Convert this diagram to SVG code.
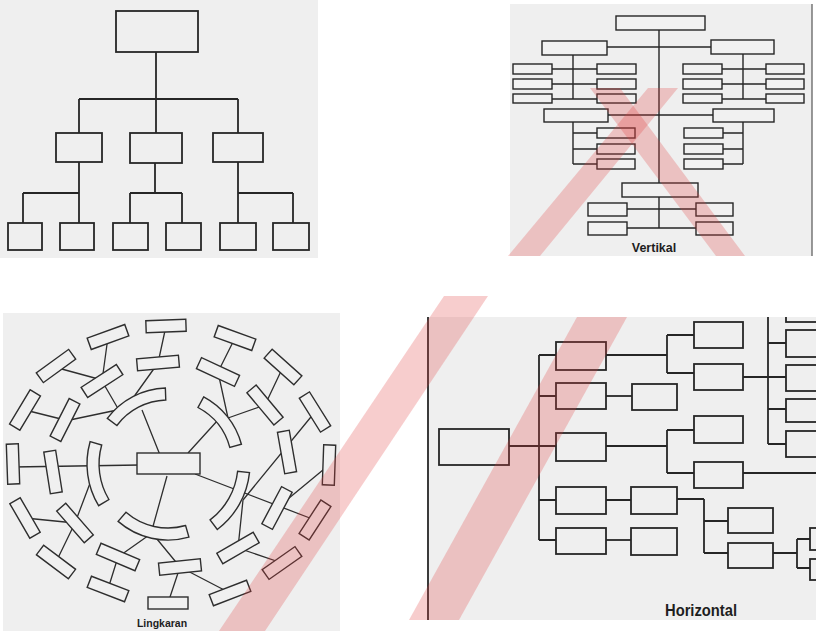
<svg xmlns="http://www.w3.org/2000/svg" width="816" height="631" viewBox="0 0 816 631">
<style>
.pbg{fill:#efefef}
.bx{fill:#efefef;stroke:#262626;stroke-width:1.8}
.bxt{fill:#f1f1f1;stroke:#262626;stroke-width:1.4}
.cb{fill:#f0f0f0;stroke:#2e2e2e;stroke-width:1.4}
.ln{fill:none;stroke:#262626;stroke-width:1.8}
.lnt{fill:none;stroke:#262626;stroke-width:1.4}
.lnc{fill:none;stroke:#2e2e2e;stroke-width:1.3}
.lbl{font-family:"Liberation Sans",Arial,sans-serif;font-weight:bold;fill:#1e1e1e;text-anchor:middle}
.wm{fill:#e03c3c;opacity:0.26}
</style>
<defs>
<clipPath id="hclip"><rect x="428" y="317" width="388" height="303"/></clipPath>
</defs>
<rect width="816" height="631" fill="#ffffff"/>
<!-- panel backgrounds -->
<rect class="pbg" x="0" y="0" width="318" height="258"/>
<rect class="pbg" x="510" y="4" width="302" height="252"/>
<line x1="812" y1="4" x2="812" y2="256" stroke="#555" stroke-width="1.2"/>
<rect class="pbg" x="3" y="313" width="337" height="318"/>
<rect class="pbg" x="428" y="317" width="388" height="303"/>
<line x1="428" y1="317" x2="428" y2="620" stroke="#262626" stroke-width="1.8"/>

<!-- ============ TOP-LEFT chart ============ -->
<g id="tl-connectors" class="ln">
<path d="M156 52V99M79 99H238M79 99V133M156 99V133M238 99V133"/>
<path d="M79 162V193M23 193H79M23 193V223M79 193V223"/>
<path d="M155 163V193M130 193H182M130 193V223M182 193V223"/>
<path d="M238 162V193M238 193H293M238 193V223M293 193V223"/>
</g>
<g id="tl-root"><rect class="bx" x="116" y="11" width="82" height="41"/></g>
<g id="tl-m1"><rect class="bx" x="56" y="133" width="46" height="29"/></g>
<g id="tl-m2"><rect class="bx" x="130" y="133" width="52" height="30"/></g>
<g id="tl-m3"><rect class="bx" x="213" y="133" width="50" height="29"/></g>
<g id="tl-b1"><rect class="bx" x="8" y="223" width="34" height="27"/></g>
<g id="tl-b2"><rect class="bx" x="60" y="223" width="34" height="27"/></g>
<g id="tl-b3"><rect class="bx" x="113" y="223" width="35" height="27"/></g>
<g id="tl-b4"><rect class="bx" x="166" y="223" width="35" height="27"/></g>
<g id="tl-b5"><rect class="bx" x="220" y="223" width="36" height="27"/></g>
<g id="tl-b6"><rect class="bx" x="273" y="223" width="36" height="27"/></g>

<!-- ============ TOP-RIGHT vertical chart ============ -->
<g id="v-connectors" class="lnt">
<path d="M659 30V183M659 197V228"/>
<path d="M607 47H711"/>
<path d="M573 55V99M552 69H597M552 84H597M552 99H597"/>
<path d="M743 54V99M722 69H766M722 84H766M722 99H766"/>
<path d="M608 115H713"/>
<path d="M573 122V164M573 133H597M573 149H597M573 164H597"/>
<path d="M743 122V164M723 133H743M723 149H743M723 164H743"/>
<path d="M627 209H696M627 228H696"/>
</g>
<g id="v-top"><rect class="bxt" x="616" y="16" width="89" height="14"/></g>
<g id="v-l2a"><rect class="bxt" x="542" y="41" width="65" height="14"/></g>
<g id="v-l2b"><rect class="bxt" x="711" y="40" width="63" height="14"/></g>
<g id="v-a1"><rect class="bxt" x="513" y="64" width="39" height="10"/></g>
<g id="v-a2"><rect class="bxt" x="513" y="79" width="39" height="10"/></g>
<g id="v-a3"><rect class="bxt" x="513" y="94" width="39" height="9"/></g>
<g id="v-a4"><rect class="bxt" x="597" y="64" width="39" height="10"/></g>
<g id="v-a5"><rect class="bxt" x="597" y="79" width="39" height="10"/></g>
<g id="v-a6"><rect class="bxt" x="597" y="94" width="39" height="9"/></g>
<g id="v-b1"><rect class="bxt" x="683" y="64" width="39" height="10"/></g>
<g id="v-b2"><rect class="bxt" x="683" y="79" width="39" height="10"/></g>
<g id="v-b3"><rect class="bxt" x="683" y="94" width="39" height="9"/></g>
<g id="v-b4"><rect class="bxt" x="766" y="64" width="38" height="10"/></g>
<g id="v-b5"><rect class="bxt" x="766" y="79" width="38" height="10"/></g>
<g id="v-b6"><rect class="bxt" x="766" y="94" width="38" height="9"/></g>
<g id="v-l3a"><rect class="bxt" x="544" y="109" width="64" height="13"/></g>
<g id="v-l3b"><rect class="bxt" x="713" y="109" width="61" height="13"/></g>
<g id="v-c1"><rect class="bxt" x="597" y="128" width="38" height="10"/></g>
<g id="v-c2"><rect class="bxt" x="597" y="144" width="38" height="10"/></g>
<g id="v-c3"><rect class="bxt" x="597" y="159" width="38" height="10"/></g>
<g id="v-d1"><rect class="bxt" x="684" y="128" width="39" height="10"/></g>
<g id="v-d2"><rect class="bxt" x="684" y="144" width="39" height="10"/></g>
<g id="v-d3"><rect class="bxt" x="684" y="159" width="39" height="10"/></g>
<g id="v-bot"><rect class="bxt" x="622" y="183" width="76" height="14"/></g>
<g id="v-e1"><rect class="bxt" x="588" y="203" width="39" height="13"/></g>
<g id="v-e2"><rect class="bxt" x="588" y="222" width="39" height="13"/></g>
<g id="v-e3"><rect class="bxt" x="696" y="203" width="37" height="13"/></g>
<g id="v-e4"><rect class="bxt" x="696" y="222" width="37" height="13"/></g>
<text class="lbl" x="654" y="252" font-size="12.5">Vertikal</text>

<!-- ============ BOTTOM-LEFT circle chart ============ -->
<g id="c-connectors" class="lnc">
<path d="M160 455L142 410M128 405L158 363M158 363L166 326"/>
<path d="M102 381L120 412M108 337L102 381M58 368L102 380M65 421L122 409M25 410L65 420"/>
<path d="M188 453L218 420M218 372L228 418M235 338L218 372M228 418L265 405M265 405L283 367"/>
<path d="M315 412L243 500M243 500L238 548M238 548L282 563"/>
<path d="M195 474L315 520M329 465L277 508"/>
<path d="M13 467L140 465"/>
<path d="M75 523L25 518M75 523L92 478M75 523L56 562"/>
<path d="M167 476L152 530M152 533L118 557M118 557L108 589M152 533L180 567M180 567L230 593M180 567L168 603"/>
</g>
<g id="c-center"><rect class="cb" x="137" y="453" width="63" height="21"/></g>
<g id="c-A"><path class="cb" d="M107.3 418.3A76 76 0 0 1 165.35 388.05L165.77 400.04A64 64 0 0 0 116.9 425.5Z"/></g>
<g id="c-B"><path class="cb" d="M203.7 396.9A76 76 0 0 1 241.4 444.3L229.8 447.4A64 64 0 0 0 198 407.5Z"/></g>
<g id="c-C"><path class="cb" d="M98.6 505.7A81 81 0 0 1 90.1 441.7L101.7 445A69 69 0 0 0 108.9 499.5Z"/></g>
<g id="c-D"><path class="cb" d="M249.5 472.6A82 82 0 0 1 217.3 529.5L210.1 519.9A70 70 0 0 0 237.6 471.3Z"/></g>
<g id="c-E"><path class="cb" d="M188.9 537.1A76 76 0 0 1 118.1 521.4L126 512.3A64 64 0 0 0 185.6 525.5Z"/></g>
<!-- middle ring -->
<g id="c-a"><rect class="cb" x="-21" y="-6" width="42" height="12" transform="translate(158 363) rotate(-5)"/></g>
<g id="c-b"><rect class="cb" x="-21" y="-6" width="42" height="12" transform="translate(218 372) rotate(25)"/></g>
<g id="c-c"><rect class="cb" x="-21" y="-6" width="42" height="12" transform="translate(102 381) rotate(-33)"/></g>
<g id="c-d"><rect class="cb" x="-21" y="-6" width="42" height="12" transform="translate(265 405) rotate(50)"/></g>
<g id="c-e"><rect class="cb" x="-21" y="-6" width="42" height="12" transform="translate(65 420) rotate(-63)"/></g>
<g id="c-f"><rect class="cb" x="-21" y="-6" width="42" height="12" transform="translate(287 452) rotate(80)"/></g>
<g id="c-g"><rect class="cb" x="-21" y="-6" width="42" height="12" transform="translate(53 472) rotate(81)"/></g>
<g id="c-h"><rect class="cb" x="-21" y="-6" width="42" height="12" transform="translate(277 508) rotate(-62)"/></g>
<g id="c-i"><rect class="cb" x="-21" y="-6" width="42" height="12" transform="translate(75 523) rotate(49)"/></g>
<g id="c-j"><rect class="cb" x="-21" y="-6" width="42" height="12" transform="translate(238 548) rotate(-30)"/></g>
<g id="c-k"><rect class="cb" x="-21" y="-6" width="42" height="12" transform="translate(118 557) rotate(23)"/></g>
<g id="c-l"><rect class="cb" x="-21" y="-6" width="42" height="12" transform="translate(180 567) rotate(-6)"/></g>
<!-- outer ring -->
<g id="c-o1"><rect class="cb" x="-20" y="-6" width="40" height="12" transform="translate(166 326) rotate(-2)"/></g>
<g id="c-o2"><rect class="cb" x="-20" y="-6" width="40" height="12" transform="translate(108 337) rotate(-20)"/></g>
<g id="c-o3"><rect class="cb" x="-20" y="-6" width="40" height="12" transform="translate(235 338) rotate(20)"/></g>
<g id="c-o4"><rect class="cb" x="-20" y="-6" width="40" height="12" transform="translate(56 366) rotate(-36)"/></g>
<g id="c-o5"><rect class="cb" x="-20" y="-6" width="40" height="12" transform="translate(283 367) rotate(42)"/></g>
<g id="c-o6"><rect class="cb" x="-20" y="-6" width="40" height="12" transform="translate(25 410) rotate(-59)"/></g>
<g id="c-o7"><rect class="cb" x="-20" y="-6" width="40" height="12" transform="translate(315 412) rotate(58)"/></g>
<g id="c-o8"><rect class="cb" x="-20" y="-6" width="40" height="12" transform="translate(13 464) rotate(88)"/></g>
<g id="c-o9"><rect class="cb" x="-20" y="-6" width="40" height="12" transform="translate(329 465) rotate(92)"/></g>
<g id="c-o10"><rect class="cb" x="-20" y="-6" width="40" height="12" transform="translate(25 518) rotate(60)"/></g>
<g id="c-o11"><rect class="cb" x="-20" y="-6" width="40" height="12" transform="translate(315 520) rotate(-57)"/></g>
<g id="c-o12"><rect class="cb" x="-20" y="-6" width="40" height="12" transform="translate(56 562) rotate(37)"/></g>
<g id="c-o13"><rect class="cb" x="-20" y="-6" width="40" height="12" transform="translate(282 563) rotate(-35)"/></g>
<g id="c-o14"><rect class="cb" x="-20" y="-6" width="40" height="12" transform="translate(108 589) rotate(21)"/></g>
<g id="c-o15"><rect class="cb" x="-20" y="-6" width="40" height="12" transform="translate(230 593) rotate(-21)"/></g>
<g id="c-o16"><rect class="cb" x="-20" y="-6" width="40" height="12" transform="translate(168 603) rotate(0)"/></g>
<text class="lbl" x="162" y="627" font-size="10.5">Lingkaran</text>

<!-- ============ BOTTOM-RIGHT horizontal chart ============ -->
<g clip-path="url(#hclip)">
<g id="h-connectors" class="ln">
<path d="M509 446H539M539 355V540M539 355H556M539 396H556M539 446H556M539 500H556M539 540H556"/>
<path d="M606 355H667M667 335V373M667 335H694M667 373H694"/>
<path d="M606 396H632"/>
<path d="M606 446H667M667 430V473M667 430H694M667 473H694"/>
<path d="M743 473H816"/>
<path d="M606 500H631M677 499H704M704 499V553M704 521H728M704 553H728"/>
<path d="M606 540H631"/>
<path d="M773 553H797M797 539V568M797 539H810M797 568H810"/>
<path d="M743 377H786M768 310V444M768 343H786M768 409H786M768 444H786"/>
</g>
<g id="h-root"><rect class="bx" x="439" y="429" width="70" height="36"/></g>
<g id="h-b1"><rect class="bx" x="556" y="342" width="50" height="28"/></g>
<g id="h-b2"><rect class="bx" x="556" y="383" width="50" height="26"/></g>
<g id="h-b3"><rect class="bx" x="556" y="433" width="50" height="28"/></g>
<g id="h-b4"><rect class="bx" x="556" y="487" width="50" height="27"/></g>
<g id="h-b5"><rect class="bx" x="556" y="528" width="50" height="26"/></g>
<g id="h-c1"><rect class="bx" x="694" y="322" width="49" height="26"/></g>
<g id="h-c2"><rect class="bx" x="694" y="364" width="49" height="26"/></g>
<g id="h-d"><rect class="bx" x="632" y="384" width="45" height="26"/></g>
<g id="h-e1"><rect class="bx" x="694" y="416" width="49" height="27"/></g>
<g id="h-e2"><rect class="bx" x="694" y="462" width="49" height="26"/></g>
<g id="h-f1"><rect class="bx" x="631" y="487" width="46" height="27"/></g>
<g id="h-f2"><rect class="bx" x="631" y="528" width="46" height="27"/></g>
<g id="h-g1"><rect class="bx" x="728" y="508" width="45" height="25"/></g>
<g id="h-g2"><rect class="bx" x="728" y="543" width="45" height="25"/></g>
<g id="h-h1"><rect class="bx" x="810" y="528" width="20" height="22"/></g>
<g id="h-h2"><rect class="bx" x="810" y="559" width="20" height="21"/></g>
<g id="h-i0"><rect class="bx" x="786" y="300" width="40" height="22"/></g>
<g id="h-i1"><rect class="bx" x="786" y="330" width="40" height="27"/></g>
<g id="h-i2"><rect class="bx" x="786" y="365" width="40" height="26"/></g>
<g id="h-i3"><rect class="bx" x="786" y="399" width="40" height="23"/></g>
<g id="h-i4"><rect class="bx" x="786" y="431" width="40" height="26"/></g>
</g>
<text class="lbl" x="701" y="616" font-size="16" textLength="72" lengthAdjust="spacingAndGlyphs">Horizontal</text>

<!-- watermark (translucent red bands) -->
<g id="watermark">
<polygon class="wm" points="219,631 265,631 488,296 444,296"/>
<polygon class="wm" points="590,88 620,88 745,256 716,256"/>
<polygon class="wm" points="648,88 678,88 540,256 508,256"/>
<polygon class="wm" points="409,620 459,620 627,317 577,317"/>
</g>
</svg>
